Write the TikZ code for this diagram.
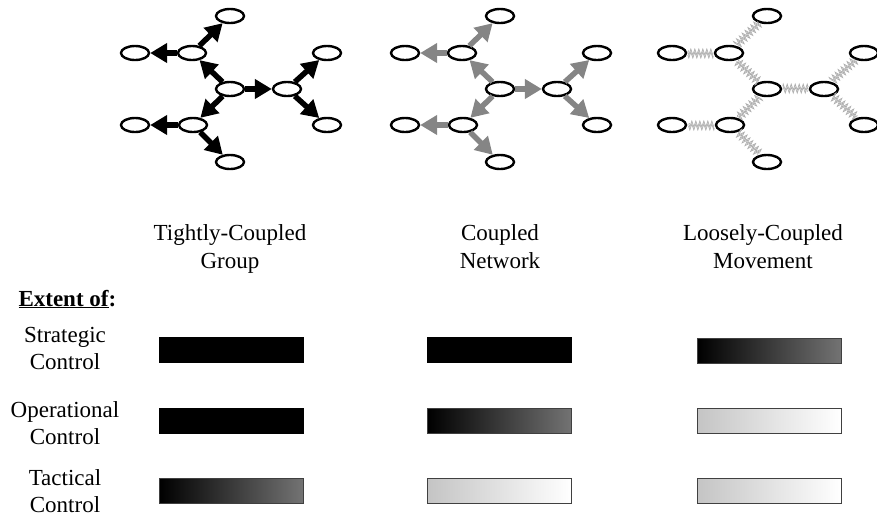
\documentclass[tikz,border=0pt]{standalone}
\usepackage{fontspec}
\setmainfont{Liberation Serif}
\usetikzlibrary{arrows.meta,shapes.geometric,decorations.pathmorphing}

% Ten agents of one network, centred on (#2,89)
\newcommand\placeagents[2]{%
  \begin{scope}[shift={(#2,89)}]
    \node[agent] (#1c)  at (0,0)     {};
    \node[agent] (#1t)  at (0,-73)   {};
    \node[agent] (#1ul) at (-38,-36) {};
    \node[agent] (#1fu) at (-95,-36) {};
    \node[agent] (#1ll) at (-37,36)  {};
    \node[agent] (#1fl) at (-95,36)  {};
    \node[agent] (#1b)  at (0,73)    {};
    \node[agent] (#1r)  at (57,0)    {};
    \node[agent] (#1rt) at (97,-36)  {};
    \node[agent] (#1rb) at (97,36)   {};
  \end{scope}}

\begin{document}
\begin{tikzpicture}[x=1pt,y=-1pt,
  agent/.style={ellipse,draw=black,line width=2.4pt,fill=white,
    minimum width=28pt,minimum height=14pt,inner sep=0pt},
  tight/.style={line width=5.5pt,draw=black,
    -{Triangle[length=17pt,width=19pt]}},
  coupled/.style={line width=5.5pt,draw=black!48,
    -{Triangle[length=17pt,width=19pt]}},
  loose/.style={draw=black!32,line width=0.7pt,shorten <=3pt,shorten >=3pt,
    decorate,decoration={zigzag,segment length=4pt,amplitude=3pt,raise=#1}},
  heading/.style={align=center,font=\fontsize{23}{28}\selectfont},
  rowlabel/.style={align=center,font=\fontsize{23}{27}\selectfont},
  bar/.style={minimum width=144pt,minimum height=25pt,inner sep=0pt,
    draw=black!75,line width=0.8pt},
  solidbar/.style={bar,fill=black,draw=black},
  darkbar/.style={bar,shading=axis,left color=black,right color=black!55},
  lightbar/.style={bar,shading=axis,left color=black!23,right color=white},
]
\useasboundingbox (0,0) rectangle (877,517);

% --- three networks -------------------------------------------------
\placeagents{g1}{230}
\placeagents{g2}{500}
\placeagents{g3}{767}

\foreach \s/\e in {c/ul,c/ll,c/r,ul/fu,ul/t,ll/fl,ll/b,r/rt,r/rb}{
  \draw[tight]   (g1\s) -- (g1\e);
  \draw[coupled] (g2\s) -- (g2\e);
  \draw[loose=2pt]  (g3\s) -- (g3\e);
  \draw[loose=-1pt] (g3\s) -- (g3\e);
}

% --- column headings ------------------------------------------------
\node[heading] (h1) at (230,248.5) {Tightly-Coupled\\Group};
\node[heading] (h2) at (500,247) {Coupled\\Network};
\node[heading] (h3) at (763,247) {Loosely-Coupled\\Movement};

\node[anchor=base west,font=\fontsize{23}{28}\selectfont\bfseries]
  (extent) at (15,306) {\underline{Extent of}:};

% --- row labels -----------------------------------------------------
\node[rowlabel] (r1) at (65,348) {Strategic\\Control};
\node[rowlabel] (r2) at (65,423.5) {Operational\\Control};
\node[rowlabel] (r3) at (65,491.5) {Tactical\\Control};

% --- extent bars ----------------------------------------------------
\node[solidbar] (b11) at (231,349.5) {};
\node[solidbar] (b12) at (231,420.5) {};
\node[darkbar]  (b13) at (231,491)   {};

\node[solidbar] (b21) at (499.5,349.5) {};
\node[darkbar]  (b22) at (499.5,420.5) {};
\node[lightbar] (b23) at (499.5,491)   {};

\node[darkbar]  (b31) at (769,351)   {};
\node[lightbar] (b32) at (769,421)   {};
\node[lightbar] (b33) at (769,491)   {};
\end{tikzpicture}
\end{document}
